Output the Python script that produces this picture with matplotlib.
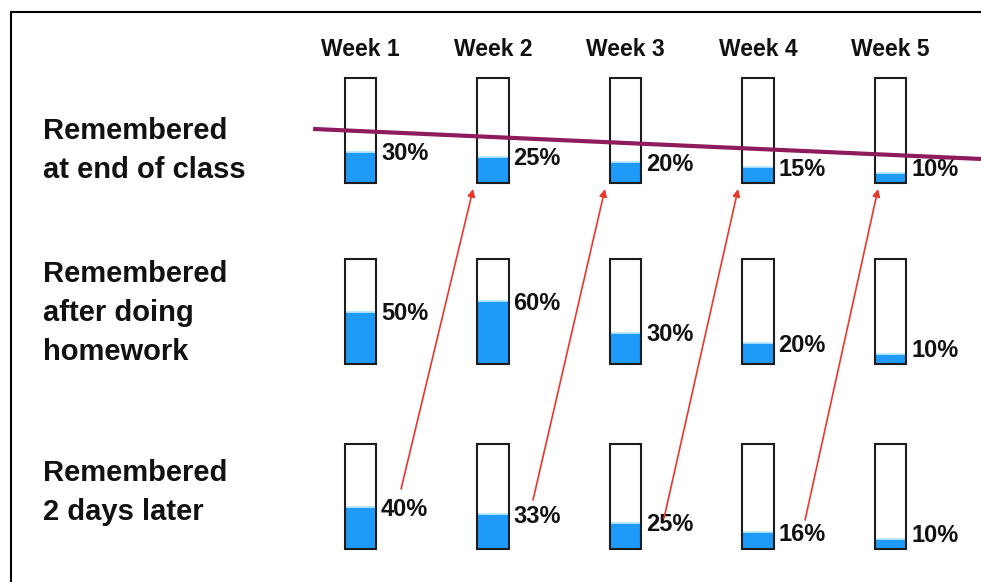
import numpy as np
import matplotlib
matplotlib.use("Agg")
import matplotlib.pyplot as plt

plt.rcParams["font.family"] = ["Liberation Sans", "DejaVu Sans"]

# ---- data -------------------------------------------------------------
weeks = ["Week 1", "Week 2", "Week 3", "Week 4", "Week 5"]
row_labels = [
    "Remembered\nat end of class",
    "Remembered\nafter doing\nhomework",
    "Remembered\n2 days later",
]
end_of_class = [30, 25, 20, 15, 10]
after_homework = [50, 60, 30, 20, 10]
two_days_later = [40, 33, 25, 16, 10]
rows = [end_of_class, after_homework, two_days_later]

# ---- layout (axis units: 1 week apart horizontally, 1 tube high vertically)
ROW_BOTTOM = [3.818, 2.086, 0.316]
ROW_LABEL_X = -2.397
ROW_LABEL_LAST_BASELINE = [3.866, 2.124, 0.593]
WEEK_LABEL_Y = 5.10
TUBE_W = 0.24

# arrows from "2 days later" of week i to "end of class" of week i+1
TAIL_DX = [0.306, 0.302, 0.291, 0.355]
TAIL_DY = [0.574, 0.469, 0.296, 0.277]
HEAD_DX = [-0.150, -0.155, -0.150, -0.094]
HEAD_DY = -0.057

# declining trend line over the first row
TREND_X = [-0.358, 4.683]
TREND_DY = [0.517, 0.230]

BLUE = "#1E9BF8"
HIGHLIGHT = "#B9E7FF"
OUTLINE = "#1c1c1c"
RED = "#E8382B"
PURPLE = "#8E1B5E"

fig = plt.figure(figsize=(9.81, 5.82), dpi=100)
ax = fig.add_axes([0, 0, 1, 1])
ax.set_xlim(-2.721, 4.683)
ax.set_ylim(0, 5.569)
ax.axis("off")

x = np.arange(len(weeks))

# frame (left and top edges)
ax.plot([0.0112, 0.0112, 1.0], [0.0, 0.979, 0.979], transform=ax.transAxes,
        color="black", lw=1.5, solid_joinstyle="miter", clip_on=False)

for r, vals in enumerate(rows):
    frac = np.array(vals) / 100.0
    base = ROW_BOTTOM[r]
    ax.bar(x, frac, width=TUBE_W, bottom=base, color=BLUE, linewidth=0, zorder=2)
    ax.hlines(base + frac, x - TUBE_W / 2, x + TUBE_W / 2, color=HIGHLIGHT,
              lw=1.3, zorder=3)
    ax.bar(x, 1.0, width=TUBE_W, bottom=base, fill=False, edgecolor=OUTLINE,
           linewidth=1.5, zorder=4)
    for xi, v in zip(x, vals):
        ax.text(xi + TUBE_W / 2 + 0.035, base + max(v / 100.0 - 0.02, 0.13),
                f"{v}%", ha="left", va="center", fontsize=17,
                fontweight="bold", color="#111111", zorder=5)
    ax.text(ROW_LABEL_X, ROW_LABEL_LAST_BASELINE[r], row_labels[r], ha="left",
            va="baseline", fontsize=21, fontweight="bold", color="#111111",
            linespacing=1.5)

for xi, w in zip(x, weeks):
    ax.text(xi, WEEK_LABEL_Y, w, ha="center", va="center", fontsize=16.5,
            fontweight="bold", color="#111111")

for i in range(len(weeks) - 1):
    ax.annotate("",
                xy=(x[i + 1] + HEAD_DX[i], ROW_BOTTOM[0] + HEAD_DY),
                xytext=(x[i] + TAIL_DX[i], ROW_BOTTOM[2] + TAIL_DY[i]),
                arrowprops=dict(arrowstyle="-|>", color=RED, lw=1.2,
                                mutation_scale=11, shrinkA=0, shrinkB=0),
                zorder=6)

ax.plot(TREND_X, [ROW_BOTTOM[0] + d for d in TREND_DY], color=PURPLE, lw=3,
        solid_capstyle="butt", zorder=7)

fig.savefig("out.png", dpi=100)
